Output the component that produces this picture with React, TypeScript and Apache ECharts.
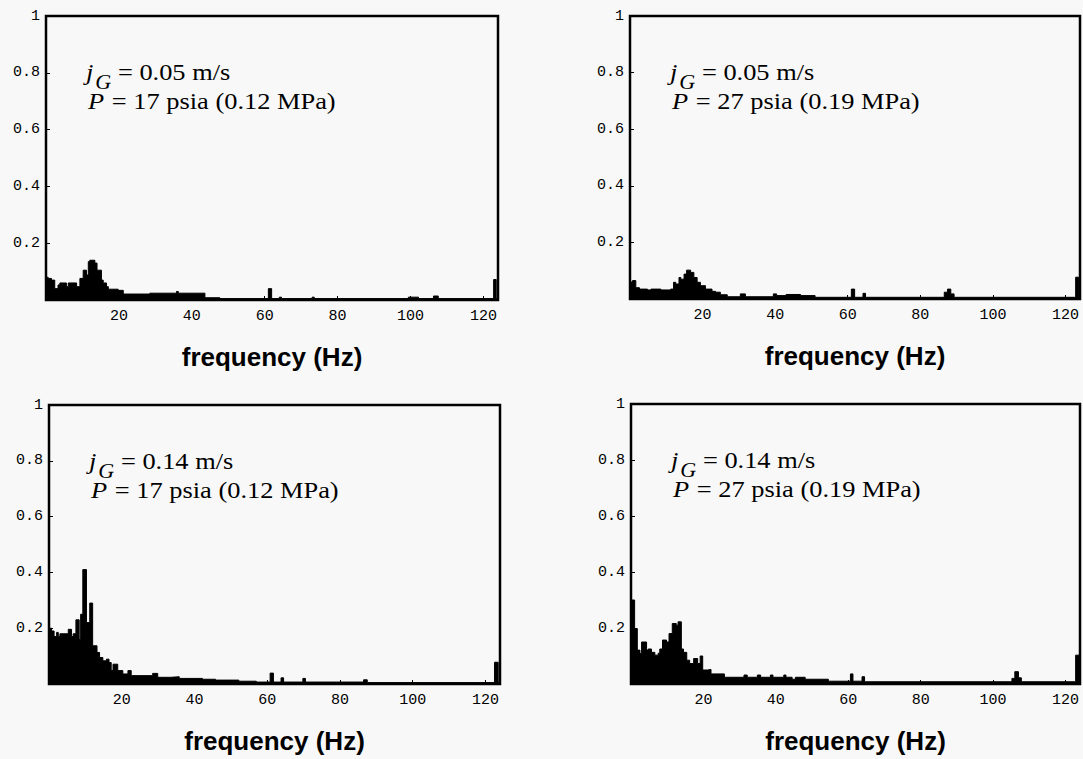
import React, { useEffect, useRef } from "react";
import * as echarts from "echarts";

// ---- Data: step spectra (frequency breakpoint in Hz -> normalized amplitude held until next breakpoint)
const p1Freq = [0, 0.6, 1.5, 2.4, 3.3, 3.8, 5.6, 6.1, 8.4, 9.3, 10.2, 11.1, 11.6, 12.0, 13.4, 14.0, 15.2, 15.7, 16.6, 17.1, 19.8, 21.2, 28.5, 35.8, 36.3, 43.6, 47.7, 61.0, 61.9, 64.0, 64.6, 73.0, 73.6, 99.4, 102.2, 106.3, 107.6, 122.8, 123.5];
const p1Amp = [0.08, 0.076, 0.07, 0.04, 0.053, 0.06, 0.047, 0.06, 0.047, 0.076, 0.105, 0.088, 0.135, 0.14, 0.13, 0.105, 0.07, 0.06, 0.047, 0.038, 0.034, 0.021, 0.024, 0.03, 0.024, 0.008, 0.005, 0.04, 0.005, 0.01, 0.005, 0.01, 0.005, 0.01, 0.005, 0.014, 0.005, 0.072, 0.005];

const p2Freq = [0, 0.7, 1.6, 2.6, 4.8, 5.8, 8.5, 11.2, 12.0, 12.6, 13.5, 14.0, 14.9, 15.6, 16.7, 17.6, 18.5, 19.4, 20.8, 22.6, 23.6, 24.9, 26.8, 30.4, 31.8, 39.5, 40.4, 43.0, 47.0, 51.0, 61.0, 61.9, 64.2, 64.9, 86.6, 87.5, 88.4, 89.3, 122.8, 123.6];
const p2Amp = [0.06, 0.065, 0.04, 0.035, 0.032, 0.035, 0.032, 0.035, 0.059, 0.053, 0.076, 0.07, 0.088, 0.102, 0.094, 0.076, 0.059, 0.047, 0.035, 0.027, 0.024, 0.015, 0.008, 0.018, 0.008, 0.018, 0.012, 0.016, 0.012, 0.006, 0.035, 0.006, 0.02, 0.006, 0.024, 0.035, 0.018, 0.006, 0.077, 0.005];

const p3Freq = [0, 0.7, 1.4, 2.1, 2.55, 3.0, 5.3, 6.2, 6.65, 7.4, 8.3, 8.7, 9.3, 10.3, 11.2, 12.0, 13.2, 13.9, 14.8, 15.8, 16.5, 17.1, 17.6, 18.9, 20.3, 21.7, 22.6, 28.5, 29.9, 33.5, 35.8, 42.2, 45.8, 52.2, 57.0, 60.8, 61.7, 63.8, 64.5, 69.8, 70.5, 86.5, 87.5, 122.5, 123.5];
const p3Amp = [0.2, 0.19, 0.17, 0.185, 0.17, 0.18, 0.196, 0.17, 0.18, 0.23, 0.16, 0.25, 0.41, 0.22, 0.29, 0.137, 0.113, 0.095, 0.083, 0.089, 0.077, 0.048, 0.071, 0.048, 0.036, 0.048, 0.03, 0.038, 0.024, 0.026, 0.02, 0.017, 0.014, 0.01, 0.007, 0.039, 0.007, 0.022, 0.007, 0.02, 0.007, 0.015, 0.005, 0.078, 0.005];

const p4Freq = [0, 1.0, 1.74, 2.47, 2.92, 4.3, 4.75, 5.66, 6.58, 7.5, 7.95, 8.7, 9.8, 10.5, 11.4, 12.5, 13.0, 13.9, 14.5, 15.4, 16.2, 17.3, 18.4, 19.1, 19.8, 21.2, 22.1, 25.8, 31.2, 32.1, 34.9, 35.8, 38.5, 39.2, 42.2, 42.8, 44.5, 45.4, 48.1, 54.5, 60.6, 61.3, 63.8, 64.5, 105.2, 106.0, 107.0, 107.8, 122.8];
const p4Amp = [0.3, 0.198, 0.121, 0.109, 0.15, 0.121, 0.125, 0.113, 0.103, 0.11, 0.125, 0.157, 0.15, 0.18, 0.216, 0.21, 0.222, 0.125, 0.113, 0.085, 0.073, 0.091, 0.073, 0.1, 0.05, 0.052, 0.036, 0.024, 0.032, 0.024, 0.032, 0.024, 0.032, 0.024, 0.032, 0.024, 0.017, 0.024, 0.017, 0.01, 0.036, 0.01, 0.026, 0.008, 0.02, 0.044, 0.022, 0.008, 0.103];

const freqMax = 124;
const xTickLabels = [20, 40, 60, 80, 100, 120];
const yTickLabels = [0.2, 0.4, 0.6, 0.8, 1];

const jgValues = ["0.05", "0.05", "0.14", "0.14"];
const pValues = ["17 psia (0.12 MPa)", "27 psia (0.19 MPa)", "17 psia (0.12 MPa)", "27 psia (0.19 MPa)"];
const xAxisTitle = "frequency (Hz)";

const panels = [
  { freq: p1Freq, amp: p1Amp },
  { freq: p2Freq, amp: p2Amp },
  { freq: p3Freq, amp: p3Amp },
  { freq: p4Freq, amp: p4Amp },
];

const gridBoxes = [
  { left: 46, top: 16, width: 452, height: 284 },
  { left: 630, top: 16, width: 450, height: 283 },
  { left: 49, top: 405, width: 451, height: 279 },
  { left: 631, top: 404, width: 450, height: 280 },
];

const SERIF = '"Liberation Serif", "Times New Roman", serif';
const MONO = '"Liberation Mono", "Courier New", monospace';
const SANS = '"Liberation Sans", Arial, sans-serif';

function txt(x: number, y: number, text: string, font: string) {
  return {
    type: "text",
    x,
    y,
    style: {
      text,
      font,
      fill: "#000",
      align: "left",
      verticalAlign: "middle",
      textAlign: "left",
      textVerticalAlign: "middle",
    },
  };
}

export default function App() {
  const ref = useRef<HTMLDivElement>(null);

  useEffect(() => {
    if (!ref.current) return;
    const chart = echarts.init(ref.current, undefined, { renderer: "svg" });

    const grid = gridBoxes.map((g) => ({
      ...g,
      show: true,
      borderColor: "#000",
      borderWidth: 2.5,
      backgroundColor: "transparent",
      containLabel: false,
    }));

    const xAxis = gridBoxes.map((_, i) => ({
      type: "value",
      gridIndex: i,
      min: 0,
      max: freqMax,
      interval: 20,
      name: xAxisTitle,
      nameLocation: "middle",
      nameGap: 44,
      nameTextStyle: { fontFamily: SANS, fontSize: 26, fontWeight: "bold", color: "#000" },
      axisLine: { show: false },
      axisTick: { show: true, inside: true, length: 4, lineStyle: { color: "#000", width: 1 } },
      splitLine: { show: false },
      axisLabel: {
        margin: 9,
        fontFamily: MONO,
        fontSize: 15,
        color: "#000",
        formatter: (v: number) => (xTickLabels.includes(Math.round(v)) && Math.abs(v - Math.round(v)) < 1e-6 ? String(Math.round(v)) : ""),
      },
    }));

    const yAxis = gridBoxes.map((_, i) => ({
      type: "value",
      gridIndex: i,
      min: 0,
      max: 1,
      interval: 0.2,
      axisLine: { show: false },
      axisTick: { show: true, inside: true, length: 4, lineStyle: { color: "#000", width: 1 } },
      splitLine: { show: false },
      axisLabel: {
        margin: 6,
        fontFamily: MONO,
        fontSize: 15,
        color: "#000",
        formatter: (v: number) => {
          const hit = yTickLabels.find((t) => Math.abs(t - v) < 1e-6);
          if (hit === undefined) return "";
          return hit === 1 ? "1" : hit.toFixed(1);
        },
      },
    }));

    const series = panels.map((p, i) => {
      const data: number[][] = p.freq.map((f, k) => [f, p.amp[k]]);
      data.push([freqMax, p.amp[p.amp.length - 1]]);
      return {
        type: "line",
        xAxisIndex: i,
        yAxisIndex: i,
        step: "end",
        symbol: "none",
        data,
        lineStyle: { color: "#000", width: 1 },
        areaStyle: { color: "#000", opacity: 1 },
        itemStyle: { color: "#000" },
        silent: true,
      };
    });

    const graphic = gridBoxes.map((g, i) => ({
      type: "group",
      x: g.left + 40,
      y: g.top + 56,
      scaleX: 1.1,
      children: [
        txt(0, 0, "j", "italic 24px " + SERIF),
        txt(8.5, 10, "G", "italic 20px " + SERIF),
        txt(29, 0, "= " + jgValues[i] + " m/s", "24px " + SERIF),
        txt(1.8, 29, "P", "italic 24px " + SERIF),
        txt(23.5, 29, "= " + pValues[i], "24px " + SERIF),
      ],
    }));

    chart.setOption({
      animation: false,
      backgroundColor: "#f8f8f8",
      grid,
      xAxis,
      yAxis,
      series,
      graphic,
    } as any);

    return () => chart.dispose();
  }, []);

  return (
    <div
      ref={ref}
      style={{ position: "fixed", left: 0, top: 0, width: 1083, height: 759, background: "#f8f8f8" }}
    />
  );
}
